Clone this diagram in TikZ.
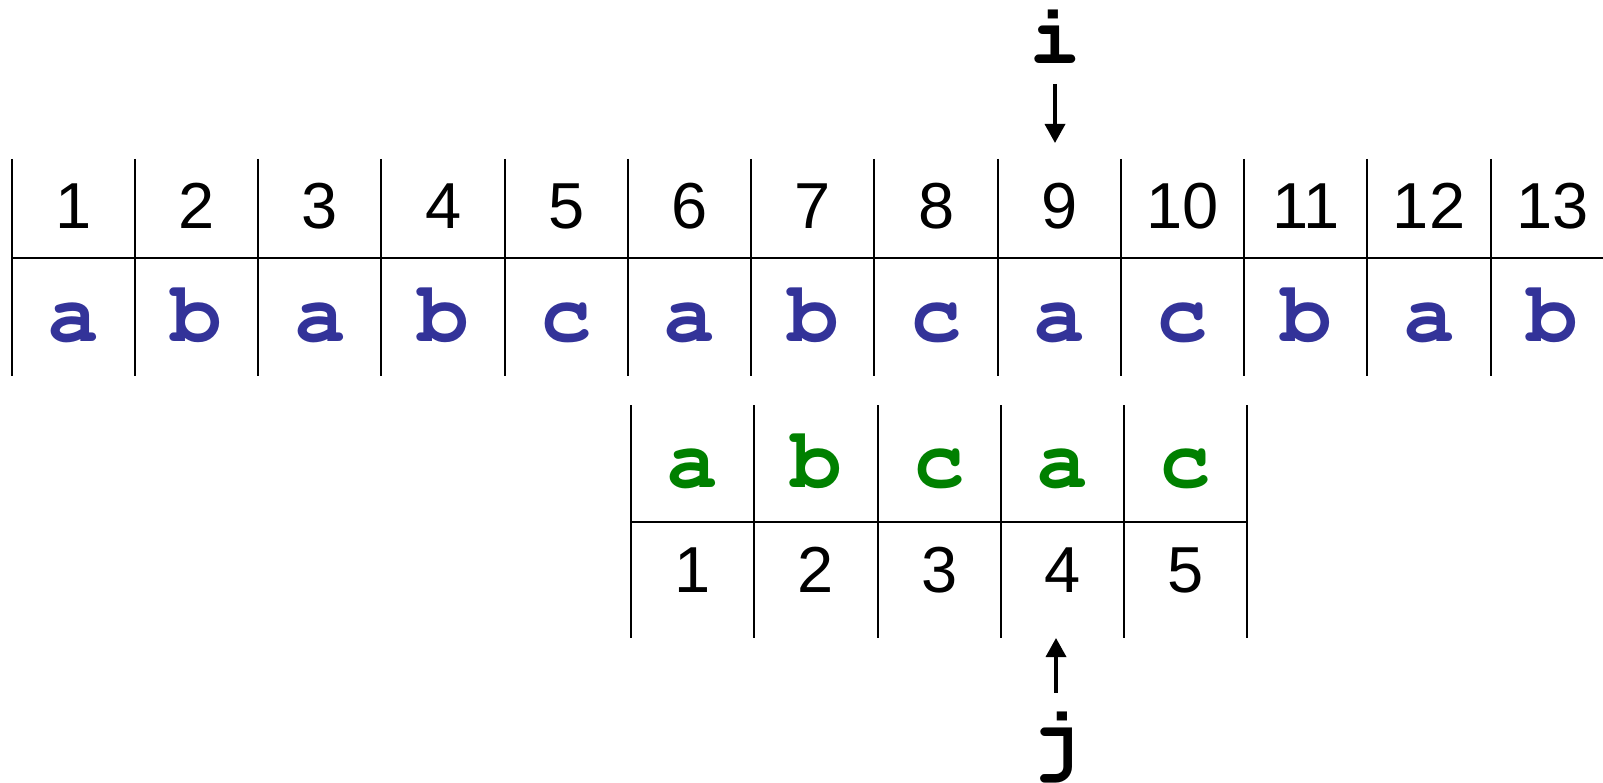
\documentclass[tikz,border=0pt]{standalone}
\usepackage[T1]{fontenc}
\usepackage{fontspec}
\setmainfont{Liberation Sans}
\newcommand\codefont{\fontencoding{T1}\fontfamily{pcr}\fontseries{b}\selectfont}
\usetikzlibrary{arrows.meta}
\definecolor{textblue}{RGB}{51,51,153}
\definecolor{patgreen}{RGB}{0,128,0}

\begin{document}
\begin{tikzpicture}[x=1pt, y=-1pt, line width=2pt,
    num/.style={anchor=base, inner sep=0pt, font=\fontsize{65}{70}\selectfont},
    chr/.style={anchor=base, inner sep=0pt, font=\codefont\fontsize{86}{90}\selectfont},
    ptr/.style={-{Triangle[width=20pt,length=19pt]}, line width=3.5pt}]
    \useasboundingbox (0,0) rectangle (1603,783);
    \def\W{123.25}
    % text, with positions on top
    \foreach \ltr [count=\k] in {a,b,a,b,c,a,b,c,a,c,b,a,b} {
        \node[num] (n\k) at ({11.7+(\k-0.5)*\W},229) {\k};
        \node[chr, text=textblue] (t\k) at ({11.7+(\k-0.5)*\W},342) {\ltr};
    }
    \foreach \k in {0,...,12}
        \draw ({11.7+\k*\W},159) -- ({11.7+\k*\W},376);
    \draw (11.7,258) -- (1603,258);
    % pattern, with positions below
    \foreach \ltr [count=\k] in {a,b,c,a,c} {
        \node[chr, text=patgreen] (p\k) at ({631+(\k-0.5)*\W},487) {\ltr};
        \node[num] (m\k) at ({631+(\k-0.5)*\W},592) {\k};
    }
    \foreach \k in {0,...,5}
        \draw ({631+\k*\W},405) -- ({631+\k*\W},638);
    \draw (631,522) -- ({631+5*\W},522);
    % the two pointers
    \node[chr] (i) at (1055,64) {i};
    \node[chr] (j) at (1056,765) {j};
    \coordinate (itip) at (1055,143);
    \coordinate (jtip) at (1056,638);
    \draw[ptr, shorten <=19pt] (i) -- (itip);
    \draw[ptr, shorten <=14pt] (j) -- (jtip);
\end{tikzpicture}
\end{document}
